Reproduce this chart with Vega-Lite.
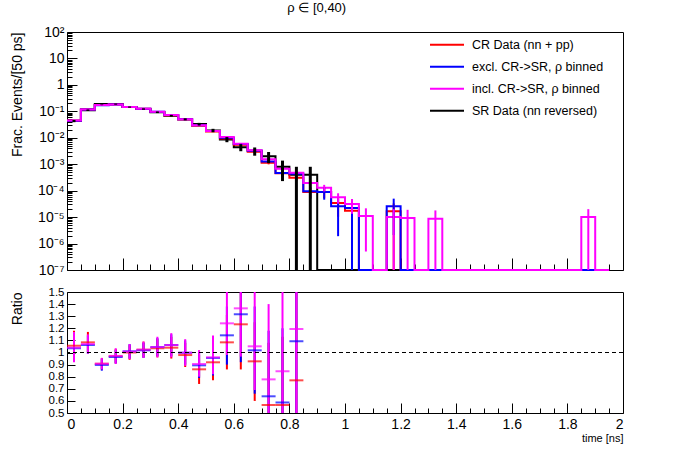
{
  "$schema": "https://vega.github.io/schema/vega-lite/v6.json",
  "background": "white",
  "padding": {"left": 9, "top": 1, "right": 5, "bottom": 5},
  "title": {"text": "ρ ∈ [0,40)", "fontSize": 13, "fontWeight": "normal", "font": "Liberation Sans", "color": "black", "anchor": "middle", "offset": 10},
  "config": {
    "font": "Liberation Sans",
    "view": {"stroke": "black", "strokeWidth": 1},
    "axis": {"domain": false, "grid": false, "labelFont": "Liberation Sans", "labelFontSize": 14, "labelColor": "black", "tickColor": "black", "tickWidth": 1, "titleFont": "Liberation Sans", "titleFontSize": 14, "titleFontWeight": "normal", "titleColor": "black", "labelOverlap": false}
  },
  "datasets": {
    "hist": [
      {"s":"SR","t":0,"v":0.043,"lo":0.0389,"hi":0.0472},
      {"s":"SR","t":0.05,"v":0.11,"lo":0.1034,"hi":0.1166},
      {"s":"SR","t":0.1,"v":0.19,"lo":0.1813,"hi":0.1987},
      {"s":"SR","t":0.15,"v":0.188,"lo":0.1793,"hi":0.1967},
      {"s":"SR","t":0.2,"v":0.145,"lo":0.1374,"hi":0.1526},
      {"s":"SR","t":0.25,"v":0.122,"lo":0.115,"hi":0.129},
      {"s":"SR","t":0.3,"v":0.092,"lo":0.0859,"hi":0.0981},
      {"s":"SR","t":0.35,"v":0.068,"lo":0.0628,"hi":0.0732},
      {"s":"SR","t":0.4,"v":0.05,"lo":0.0455,"hi":0.0545},
      {"s":"SR","t":0.45,"v":0.033,"lo":0.0294,"hi":0.0366},
      {"s":"SR","t":0.5,"v":0.019,"lo":0.0162,"hi":0.0218},
      {"s":"SR","t":0.55,"v":0.0087,"lo":0.0068,"hi":0.0106},
      {"s":"SR","t":0.6,"v":0.0044,"lo":0.0031,"hi":0.0057},
      {"s":"SR","t":0.65,"v":0.0032,"lo":0.0021,"hi":0.0043},
      {"s":"SR","t":0.7,"v":0.002,"lo":0.0011,"hi":0.0029},
      {"s":"SR","t":0.75,"v":0.0008,"lo":0.00023,"hi":0.00137},
      {"s":"SR","t":0.8,"v":0.0004,"lo":0,"hi":0.0008},
      {"s":"SR","t":0.85,"v":0.0004,"lo":0,"hi":0.0008},
      {"s":"SR","t":0.9,"v":0},{"s":"SR","t":0.95,"v":0},{"s":"SR","t":1,"v":0},{"s":"SR","t":1.05,"v":0},
      {"s":"SR","t":1.1,"v":0},{"s":"SR","t":1.15,"v":0},{"s":"SR","t":1.2,"v":0},{"s":"SR","t":1.25,"v":0},
      {"s":"SR","t":1.3,"v":0},{"s":"SR","t":1.35,"v":0},{"s":"SR","t":1.4,"v":0},{"s":"SR","t":1.45,"v":0},
      {"s":"SR","t":1.5,"v":0},{"s":"SR","t":1.55,"v":0},{"s":"SR","t":1.6,"v":0},{"s":"SR","t":1.65,"v":0},
      {"s":"SR","t":1.7,"v":0},{"s":"SR","t":1.75,"v":0},{"s":"SR","t":1.8,"v":0},{"s":"SR","t":1.85,"v":0},
      {"s":"SR","t":1.9,"v":0},{"s":"SR","t":1.95,"v":0},

      {"s":"CR","t":0,"v":0.0454,"lo":0.0445,"hi":0.0463},
      {"s":"CR","t":0.05,"v":0.1192,"lo":0.1178,"hi":0.1206},
      {"s":"CR","t":0.1,"v":0.1723,"lo":0.1706,"hi":0.174},
      {"s":"CR","t":0.15,"v":0.1822,"lo":0.1805,"hi":0.1839},
      {"s":"CR","t":0.2,"v":0.145,"lo":0.1435,"hi":0.1466},
      {"s":"CR","t":0.25,"v":0.1248,"lo":0.1234,"hi":0.1262},
      {"s":"CR","t":0.3,"v":0.0952,"lo":0.0939,"hi":0.0965},
      {"s":"CR","t":0.35,"v":0.0707,"lo":0.0696,"hi":0.0718},
      {"s":"CR","t":0.4,"v":0.049,"lo":0.0481,"hi":0.0499},
      {"s":"CR","t":0.45,"v":0.0284,"lo":0.0277,"hi":0.0291},
      {"s":"CR","t":0.5,"v":0.01746,"lo":0.01692,"hi":0.018},
      {"s":"CR","t":0.55,"v":0.00943,"lo":0.00904,"hi":0.00982},
      {"s":"CR","t":0.6,"v":0.00543,"lo":0.00513,"hi":0.00573},
      {"s":"CR","t":0.65,"v":0.00297,"lo":0.00275,"hi":0.00319},
      {"s":"CR","t":0.7,"v":0.00113,"lo":0.00099,"hi":0.00127},
      {"s":"CR","t":0.75,"v":0.000453,"lo":0.000367,"hi":0.000539},
      {"s":"CR","t":0.8,"v":0.000308,"lo":0.000237,"hi":0.000379},
      {"s":"CR","t":0.85,"v":0.00009,"lo":0.0000515,"hi":0.0001285},
      {"s":"CR","t":0.9,"v":0.00009,"lo":0.0000515,"hi":0.0001285},
      {"s":"CR","t":0.95,"v":0.000034,"lo":0.0000103,"hi":0.0000577},
      {"s":"CR","t":1,"v":0.0000175,"lo":0.0000005,"hi":0.0000345},
      {"s":"CR","t":1.05,"v":0},{"s":"CR","t":1.1,"v":0},
      {"s":"CR","t":1.15,"v":0.0000165,"lo":0,"hi":0.000033},
      {"s":"CR","t":1.2,"v":0},{"s":"CR","t":1.25,"v":0},
      {"s":"CR","t":1.3,"v":0},{"s":"CR","t":1.35,"v":0},{"s":"CR","t":1.4,"v":0},{"s":"CR","t":1.45,"v":0},
      {"s":"CR","t":1.5,"v":0},{"s":"CR","t":1.55,"v":0},{"s":"CR","t":1.6,"v":0},{"s":"CR","t":1.65,"v":0},
      {"s":"CR","t":1.7,"v":0},{"s":"CR","t":1.75,"v":0},{"s":"CR","t":1.8,"v":0},{"s":"CR","t":1.85,"v":0},
      {"s":"CR","t":1.9,"v":0},{"s":"CR","t":1.95,"v":0},

      {"s":"excl","t":0,"v":0.0445,"lo":0.0435,"hi":0.0455},
      {"s":"excl","t":0.05,"v":0.1168,"lo":0.1152,"hi":0.1184},
      {"s":"excl","t":0.1,"v":0.1704,"lo":0.1685,"hi":0.1723},
      {"s":"excl","t":0.15,"v":0.181,"lo":0.179,"hi":0.183},
      {"s":"excl","t":0.2,"v":0.1465,"lo":0.1447,"hi":0.1483},
      {"s":"excl","t":0.25,"v":0.1242,"lo":0.1225,"hi":0.1259},
      {"s":"excl","t":0.3,"v":0.0961,"lo":0.0947,"hi":0.0976},
      {"s":"excl","t":0.35,"v":0.0722,"lo":0.0709,"hi":0.0735},
      {"s":"excl","t":0.4,"v":0.0499,"lo":0.0489,"hi":0.051},
      {"s":"excl","t":0.45,"v":0.0295,"lo":0.0287,"hi":0.0303},
      {"s":"excl","t":0.5,"v":0.01815,"lo":0.01752,"hi":0.01878},
      {"s":"excl","t":0.55,"v":0.00994,"lo":0.00947,"hi":0.01041},
      {"s":"excl","t":0.6,"v":0.00579,"lo":0.00543,"hi":0.00615},
      {"s":"excl","t":0.65,"v":0.00326,"lo":0.00299,"hi":0.00353},
      {"s":"excl","t":0.7,"v":0.001276,"lo":0.00111,"hi":0.00144},
      {"s":"excl","t":0.75,"v":0.00047,"lo":0.000368,"hi":0.000572},
      {"s":"excl","t":0.8,"v":0.000437,"lo":0.000339,"hi":0.000535},
      {"s":"excl","t":0.85,"v":0.000095,"lo":0.0000493,"hi":0.0001407},
      {"s":"excl","t":0.9,"v":0.00009,"lo":0.0000455,"hi":0.0001345},
      {"s":"excl","t":0.95,"v":0.0000256,"lo":0.0000019,"hi":0.0000493},
      {"s":"excl","t":1,"v":0.000022,"lo":0,"hi":0.000044},
      {"s":"excl","t":1.05,"v":0},{"s":"excl","t":1.1,"v":0},
      {"s":"excl","t":1.15,"v":0.000026,"lo":0.0000021,"hi":0.0000499},
      {"s":"excl","t":1.2,"v":0},{"s":"excl","t":1.25,"v":0},
      {"s":"excl","t":1.3,"v":0},{"s":"excl","t":1.35,"v":0},{"s":"excl","t":1.4,"v":0},{"s":"excl","t":1.45,"v":0},
      {"s":"excl","t":1.5,"v":0},{"s":"excl","t":1.55,"v":0},{"s":"excl","t":1.6,"v":0},{"s":"excl","t":1.65,"v":0},
      {"s":"excl","t":1.7,"v":0},{"s":"excl","t":1.75,"v":0},{"s":"excl","t":1.8,"v":0},{"s":"excl","t":1.85,"v":0},
      {"s":"excl","t":1.9,"v":0},{"s":"excl","t":1.95,"v":0},

      {"s":"incl","t":0,"v":0.0447,"lo":0.044,"hi":0.0454},
      {"s":"incl","t":0.05,"v":0.1177,"lo":0.1166,"hi":0.1188},
      {"s":"incl","t":0.1,"v":0.1723,"lo":0.171,"hi":0.1736},
      {"s":"incl","t":0.15,"v":0.1827,"lo":0.1813,"hi":0.1841},
      {"s":"incl","t":0.2,"v":0.1462,"lo":0.145,"hi":0.1474},
      {"s":"incl","t":0.25,"v":0.1248,"lo":0.1237,"hi":0.1259},
      {"s":"incl","t":0.3,"v":0.0961,"lo":0.0951,"hi":0.0971},
      {"s":"incl","t":0.35,"v":0.0722,"lo":0.0713,"hi":0.0731},
      {"s":"incl","t":0.4,"v":0.0499,"lo":0.0492,"hi":0.0506},
      {"s":"incl","t":0.45,"v":0.0299,"lo":0.02935,"hi":0.03045},
      {"s":"incl","t":0.5,"v":0.01824,"lo":0.01781,"hi":0.01867},
      {"s":"incl","t":0.55,"v":0.0108,"lo":0.01047,"hi":0.01113},
      {"s":"incl","t":0.6,"v":0.00601,"lo":0.00577,"hi":0.00626},
      {"s":"incl","t":0.65,"v":0.00336,"lo":0.00318,"hi":0.00354},
      {"s":"incl","t":0.7,"v":0.001556,"lo":0.00143,"hi":0.00168},
      {"s":"incl","t":0.75,"v":0.000676,"lo":0.000594,"hi":0.000758},
      {"s":"incl","t":0.8,"v":0.000478,"lo":0.000409,"hi":0.000547},
      {"s":"incl","t":0.85,"v":0.000195,"lo":0.000151,"hi":0.000239},
      {"s":"incl","t":0.9,"v":0.00013,"lo":0.000094,"hi":0.000166},
      {"s":"incl","t":0.95,"v":0.000056,"lo":0.0000323,"hi":0.0000797},
      {"s":"incl","t":1,"v":0.000031,"lo":0.0000134,"hi":0.0000486},
      {"s":"incl","t":1.05,"v":0.000011,"lo":0.0000005,"hi":0.0000215},
      {"s":"incl","t":1.1,"v":0},
      {"s":"incl","t":1.15,"v":0.00001,"lo":0,"hi":0.00002},
      {"s":"incl","t":1.2,"v":0.0000093,"lo":0,"hi":0.0000189},
      {"s":"incl","t":1.25,"v":0},
      {"s":"incl","t":1.3,"v":0.0000086,"lo":0,"hi":0.0000179},
      {"s":"incl","t":1.35,"v":0},{"s":"incl","t":1.4,"v":0},{"s":"incl","t":1.45,"v":0},
      {"s":"incl","t":1.5,"v":0},{"s":"incl","t":1.55,"v":0},{"s":"incl","t":1.6,"v":0},{"s":"incl","t":1.65,"v":0},
      {"s":"incl","t":1.7,"v":0},{"s":"incl","t":1.75,"v":0},{"s":"incl","t":1.8,"v":0},
      {"s":"incl","t":1.85,"v":0.00001,"lo":0,"hi":0.00002},
      {"s":"incl","t":1.9,"v":0},{"s":"incl","t":1.95,"v":0}
    ],
    "ratio": [
      {"s":"CR","t":0,"r":1.056,"lo":0.94,"hi":1.18},
      {"s":"CR","t":0.05,"r":1.084,"lo":1.0,"hi":1.17},
      {"s":"CR","t":0.1,"r":0.907,"lo":0.86,"hi":0.955},
      {"s":"CR","t":0.15,"r":0.969,"lo":0.91,"hi":1.03},
      {"s":"CR","t":0.2,"r":1.0,"lo":0.94,"hi":1.06},
      {"s":"CR","t":0.25,"r":1.023,"lo":0.96,"hi":1.09},
      {"s":"CR","t":0.3,"r":1.035,"lo":0.96,"hi":1.11},
      {"s":"CR","t":0.35,"r":1.04,"lo":0.95,"hi":1.13},
      {"s":"CR","t":0.4,"r":0.979,"lo":0.88,"hi":1.08},
      {"s":"CR","t":0.45,"r":0.861,"lo":0.74,"hi":0.98},
      {"s":"CR","t":0.5,"r":0.919,"lo":0.77,"hi":1.07},
      {"s":"CR","t":0.55,"r":1.084,"lo":0.86,"hi":1.31},
      {"s":"CR","t":0.6,"r":1.233,"lo":0.86,"hi":1.6},
      {"s":"CR","t":0.65,"r":0.927,"lo":0.6,"hi":1.25},
      {"s":"CR","t":0.7,"r":0.566,"lo":0.05,"hi":1.08},
      {"s":"CR","t":0.75,"r":0.566,"lo":0,"hi":1.13},
      {"s":"CR","t":0.8,"r":0.77,"lo":0,"hi":1.55},
      {"s":"excl","t":0,"r":1.035,"lo":0.93,"hi":1.14},
      {"s":"excl","t":0.05,"r":1.062,"lo":0.99,"hi":1.14},
      {"s":"excl","t":0.1,"r":0.897,"lo":0.85,"hi":0.945},
      {"s":"excl","t":0.15,"r":0.963,"lo":0.91,"hi":1.02},
      {"s":"excl","t":0.2,"r":1.01,"lo":0.95,"hi":1.07},
      {"s":"excl","t":0.25,"r":1.018,"lo":0.955,"hi":1.08},
      {"s":"excl","t":0.3,"r":1.045,"lo":0.97,"hi":1.12},
      {"s":"excl","t":0.35,"r":1.062,"lo":0.97,"hi":1.15},
      {"s":"excl","t":0.4,"r":0.998,"lo":0.9,"hi":1.1},
      {"s":"excl","t":0.45,"r":0.894,"lo":0.79,"hi":1.0},
      {"s":"excl","t":0.5,"r":0.955,"lo":0.81,"hi":1.1},
      {"s":"excl","t":0.55,"r":1.142,"lo":0.9,"hi":1.38},
      {"s":"excl","t":0.6,"r":1.316,"lo":0.92,"hi":1.71},
      {"s":"excl","t":0.65,"r":1.018,"lo":0.66,"hi":1.38},
      {"s":"excl","t":0.7,"r":0.638,"lo":0.1,"hi":1.18},
      {"s":"excl","t":0.75,"r":0.587,"lo":0,"hi":1.2},
      {"s":"excl","t":0.8,"r":1.093,"lo":0,"hi":2.2},
      {"s":"incl","t":0,"r":1.04,"lo":0.92,"hi":1.17},
      {"s":"incl","t":0.05,"r":1.07,"lo":0.99,"hi":1.15},
      {"s":"incl","t":0.1,"r":0.907,"lo":0.86,"hi":0.955},
      {"s":"incl","t":0.15,"r":0.972,"lo":0.905,"hi":1.035},
      {"s":"incl","t":0.2,"r":1.008,"lo":0.945,"hi":1.07},
      {"s":"incl","t":0.25,"r":1.023,"lo":0.955,"hi":1.09},
      {"s":"incl","t":0.3,"r":1.045,"lo":0.96,"hi":1.13},
      {"s":"incl","t":0.35,"r":1.062,"lo":0.96,"hi":1.16},
      {"s":"incl","t":0.4,"r":0.998,"lo":0.89,"hi":1.11},
      {"s":"incl","t":0.45,"r":0.905,"lo":0.8,"hi":1.02},
      {"s":"incl","t":0.5,"r":0.96,"lo":0.82,"hi":1.14},
      {"s":"incl","t":0.55,"r":1.241,"lo":0.98,"hi":1.5},
      {"s":"incl","t":0.6,"r":1.365,"lo":0.966,"hi":1.76},
      {"s":"incl","t":0.65,"r":1.051,"lo":0.69,"hi":1.52},
      {"s":"incl","t":0.7,"r":0.778,"lo":0.16,"hi":1.4},
      {"s":"incl","t":0.75,"r":0.845,"lo":0,"hi":1.7},
      {"s":"incl","t":0.8,"r":1.194,"lo":0,"hi":2.4}
    ]
  },
  "spacing": 22,
  "bounds": "flush",
  "vconcat": [
    {
      "width": 556,
      "height": 238,
      "data": {"name": "hist"},
      "encoding": {
        "x": {
          "field": "t", "type": "quantitative",
          "scale": {"domain": [0, 2], "nice": false, "zero": false},
          "axis": {
            "title": null, "labels": false, "tickCount": 100,
            "values": [0,0.05,0.1,0.15,0.2,0.25,0.3,0.35,0.4,0.45,0.5,0.55,0.6,0.65,0.7,0.75,0.8,0.85,0.9,0.95,1,1.05,1.1,1.15,1.2,1.25,1.3,1.35,1.4,1.45,1.5,1.55,1.6,1.65,1.7,1.75,1.8,1.85,1.9,1.95,2],
            "tickSize": {"condition": {"test": "abs(datum.value*5 - round(datum.value*5)) < 0.001", "value": -12}, "value": -6}
          }
        }
      },
      "layer": [
        {
          "transform": [{"filter": "datum.s == 'SR'"}],
          "mark": {"type": "line", "interpolate": "step-after"},
          "encoding": {
            "y": {
              "field": "v", "type": "quantitative", "title": "Frac. Events/[50 ps]",
              "scale": {"type": "log", "domain": [1e-7, 100], "clamp": true, "nice": false},
              "axis": {
                "tickCount": 200,
                "values": [1e-7,2e-7,3e-7,4e-7,5e-7,6e-7,7e-7,8e-7,9e-7,1e-6,2e-6,3e-6,4e-6,5e-6,6e-6,7e-6,8e-6,9e-6,1e-5,2e-5,3e-5,4e-5,5e-5,6e-5,7e-5,8e-5,9e-5,1e-4,2e-4,3e-4,4e-4,5e-4,6e-4,7e-4,8e-4,9e-4,0.001,0.002,0.003,0.004,0.005,0.006,0.007,0.008,0.009,0.01,0.02,0.03,0.04,0.05,0.06,0.07,0.08,0.09,0.1,0.2,0.3,0.4,0.5,0.6,0.7,0.8,0.9,1,2,3,4,5,6,7,8,9,10,20,30,40,50,60,70,80,90,100],
                "labelExpr": "abs(log(datum.value)/LN10 - round(log(datum.value)/LN10)) < 0.001 ? ['10⁻⁷','10⁻⁶','10⁻⁵','10⁻⁴','10⁻³','10⁻²','10⁻¹','1','10','10²'][round(log(datum.value)/LN10) + 7] : ''",
                "tickSize": {"condition": {"test": "abs(log(datum.value)/LN10 - round(log(datum.value)/LN10)) < 0.001", "value": -10}, "value": -5},
                "labelPadding": 13, "labelOverlap": false,
                "titleAnchor": "end", "titleAlign": "right", "titleAngle": 270, "titleBaseline": "alphabetic",
                "titleX": -46, "titleY": 0
              }
            },
            "color": {
              "field": "s", "type": "nominal",
              "scale": {"domain": ["CR", "excl", "incl", "SR"], "range": ["#ff0000", "#0000ff", "#ff00ff", "#000000"]},
              "legend": {
                "orient": "none", "legendX": 362, "legendY": 2, "title": null,
                "symbolType": "stroke", "symbolSize": 1156, "labelFontSize": 12.5, "labelFont": "Liberation Sans", "labelColor": "black",
                "labelOffset": 7, "rowPadding": 0, "clipHeight": 21.4,
                "labelExpr": "datum.label == 'CR' ? 'CR Data (nn + pp)' : datum.label == 'excl' ? 'excl. CR->SR, ρ binned' : datum.label == 'incl' ? 'incl. CR->SR, ρ binned' : 'SR Data (nn reversed)'"
              }
            },
            "strokeWidth": {
              "field": "s", "type": "nominal",
              "scale": {"domain": ["CR", "excl", "incl", "SR"], "range": [2, 2, 2, 3]}
            }
          }
        },
        {
          "transform": [{"filter": "datum.s != 'SR'"}],
          "mark": {"type": "line", "interpolate": "step-after"},
          "encoding": {
            "y": {"field": "v", "type": "quantitative", "title": "Frac. Events/[50 ps]", "scale": {"type": "log", "domain": [1e-7, 100], "clamp": true, "nice": false}},
            "color": {"field": "s", "type": "nominal", "scale": {"domain": ["CR", "excl", "incl", "SR"], "range": ["#ff0000", "#0000ff", "#ff00ff", "#000000"]}},
            "strokeWidth": {"field": "s", "type": "nominal", "scale": {"domain": ["CR", "excl", "incl", "SR"], "range": [2, 2, 2, 3]}}
          }
        },
        {
          "transform": [{"filter": "datum.s != 'SR'"}],
          "mark": {"type": "rule", "strokeWidth": 2, "xOffset": 7},
          "encoding": {
            "y": {"field": "lo", "type": "quantitative", "title": "Frac. Events/[50 ps]", "scale": {"type": "log", "domain": [1e-7, 100], "clamp": true, "nice": false}},
            "y2": {"field": "hi"},
            "color": {"field": "s", "type": "nominal", "scale": {"domain": ["CR", "excl", "incl", "SR"], "range": ["#ff0000", "#0000ff", "#ff00ff", "#000000"]}}
          }
        },
        {
          "transform": [{"filter": "datum.s == 'SR'"}],
          "mark": {"type": "rule", "strokeWidth": 3, "xOffset": 7, "color": "black"},
          "encoding": {
            "y": {"field": "lo", "type": "quantitative", "title": "Frac. Events/[50 ps]", "scale": {"type": "log", "domain": [1e-7, 100], "clamp": true, "nice": false}},
            "y2": {"field": "hi"}
          }
        },
        {
          "data": {"values": [{}]},
          "mark": {"type": "text", "text": "ATLAS", "font": "Liberation Sans", "fontSize": 20, "fontWeight": "bold", "fontStyle": "italic", "align": "left", "baseline": "alphabetic", "color": "black"},
          "encoding": {
            "x": {"datum": 0.105, "type": "quantitative"},
            "y": {"datum": 16.5, "type": "quantitative", "scale": {"type": "log", "domain": [1e-7, 100], "clamp": true, "nice": false}}
          }
        },
        {
          "data": {"values": [{}]},
          "mark": {"type": "text", "text": "Internal", "font": "Liberation Sans", "fontSize": 20, "align": "left", "baseline": "alphabetic", "color": "black"},
          "encoding": {
            "x": {"datum": 0.362, "type": "quantitative"},
            "y": {"datum": 16.5, "type": "quantitative", "scale": {"type": "log", "domain": [1e-7, 100], "clamp": true, "nice": false}}
          }
        },
        {
          "data": {"values": [{}]},
          "mark": {"type": "text", "text": "√s = 13 TeV", "font": "Liberation Sans", "fontSize": 14, "align": "left", "baseline": "alphabetic", "color": "black"},
          "encoding": {
            "x": {"datum": 0.108, "type": "quantitative"},
            "y": {"datum": 2.3, "type": "quantitative", "scale": {"type": "log", "domain": [1e-7, 100], "clamp": true, "nice": false}}
          }
        }
      ]
    },
    {
      "width": 556,
      "height": 121,
      "data": {"name": "ratio"},
      "layer": [
        {
          "mark": {"type": "rule", "strokeWidth": 2, "xOffset": 7, "clip": true},
          "encoding": {
            "x": {
              "field": "t", "type": "quantitative",
              "scale": {"domain": [0, 2], "nice": false, "zero": false},
              "axis": {
                "title": "time [ns]", "titleFontSize": 11, "titleAnchor": "end", "titleAlign": "right", "titleBaseline": "top", "titleX": 556, "titleY": 19,
                "tickCount": 100,
                "values": [0,0.05,0.1,0.15,0.2,0.25,0.3,0.35,0.4,0.45,0.5,0.55,0.6,0.65,0.7,0.75,0.8,0.85,0.9,0.95,1,1.05,1.1,1.15,1.2,1.25,1.3,1.35,1.4,1.45,1.5,1.55,1.6,1.65,1.7,1.75,1.8,1.85,1.9,1.95,2],
                "format": "~g",
                "labelExpr": "abs(datum.value*5 - round(datum.value*5)) < 0.001 ? datum.label : ''",
                "tickSize": {"condition": {"test": "abs(datum.value*5 - round(datum.value*5)) < 0.001", "value": -10}, "value": -5},
                "labelPadding": 14, "labelOverlap": false
              }
            },
            "y": {
              "field": "lo", "type": "quantitative", "title": "Ratio",
              "scale": {"domain": [0.5, 1.5], "nice": false, "zero": false},
              "axis": {
                "tickCount": 50,
                "values": [0.5,0.6,0.7,0.8,0.9,1,1.1,1.2,1.3,1.4,1.5],
                "format": "~g", "tickSize": -8, "labelPadding": 11, "labelFontSize": 11.5, "labelOverlap": false, "labelBound": false, "labelFlush": false,
                "titleAnchor": "end", "titleAlign": "right", "titleAngle": 270, "titleBaseline": "alphabetic",
                "titleX": -46, "titleY": 0
              }
            },
            "y2": {"field": "hi"},
            "color": {"field": "s", "type": "nominal", "scale": {"domain": ["CR", "excl", "incl", "SR"], "range": ["#ff0000", "#0000ff", "#ff00ff", "#000000"]}, "legend": null}
          }
        },
        {
          "mark": {"type": "tick", "orient": "horizontal", "size": 14, "thickness": 2, "xOffset": 7, "clip": true},
          "encoding": {
            "x": {"field": "t", "type": "quantitative", "title": "time [ns]", "scale": {"domain": [0, 2], "nice": false, "zero": false}},
            "y": {"field": "r", "type": "quantitative", "title": "Ratio", "scale": {"domain": [0.5, 1.5], "nice": false, "zero": false}},
            "color": {"field": "s", "type": "nominal", "scale": {"domain": ["CR", "excl", "incl", "SR"], "range": ["#ff0000", "#0000ff", "#ff00ff", "#000000"]}, "legend": null}
          }
        },
        {
          "data": {"values": [{}]},
          "mark": {"type": "rule", "strokeDash": [4, 3], "color": "black", "strokeWidth": 1},
          "encoding": {
            "y": {"datum": 1, "type": "quantitative", "title": "Ratio", "scale": {"domain": [0.5, 1.5], "nice": false, "zero": false}}
          }
        }
      ]
    }
  ]
}
